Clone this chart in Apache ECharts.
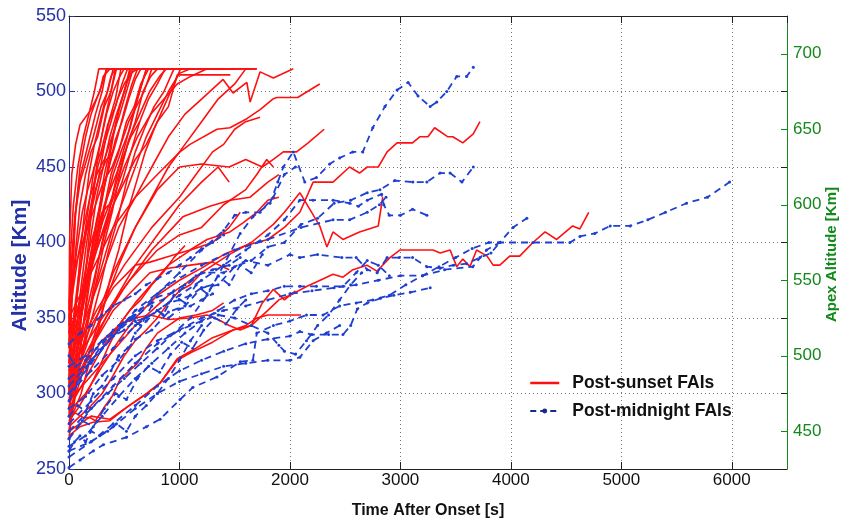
<!DOCTYPE html>
<html>
<head>
<meta charset="utf-8">
<script src="https://cdn.jsdelivr.net/npm/echarts@6/dist/echarts.min.js"></script>
<style>
  html, body { margin: 0; padding: 0; background: #fff; }
  #fai { width: 845px; height: 522px; }
</style>
</head>
<body>
<div id="fai"></div>
<script>
// time after onset [s], altitude [km] for each FAI track
const sunsetTracks = [
  [[0,330],[5,400],[25,445],[60,465],[100,478],[200,488],[280,500],[310,510],[370,515],[530,515]],
  [[0,300],[15,340],[35,380],[60,420],[100,450],[150,470],[200,485],[250,495],[300,505],[340,515],[600,515]],
  [[0,285],[30,320],[60,355],[100,390],[140,420],[180,445],[230,465],[280,480],[330,495],[380,510],[420,515],[700,515]],
  [[0,320],[25,360],[60,395],[100,425],[150,445],[200,460],[260,470],[320,490],[380,500],[430,515],[650,515]],
  [[0,345],[20,385],[50,415],[90,440],[140,455],[190,470],[240,485],[300,500],[340,515],[480,515]],
  [[0,295],[50,330],[100,365],[150,395],[200,420],[260,440],[310,460],[360,480],[420,495],[470,515],[800,515]],
  [[0,310],[40,345],[80,370],[130,400],[180,425],[230,450],[280,465],[340,485],[400,500],[460,510],[500,515],[850,515]],
  [[0,275],[60,305],[120,340],[170,370],[220,400],[270,420],[320,445],[380,465],[440,485],[500,500],[550,515],[900,515]],
  [[0,290],[50,315],[100,345],[150,380],[200,405],[250,430],[310,450],[370,470],[430,485],[500,500],[560,515],[950,515]],
  [[0,330],[40,350],[90,380],[140,400],[200,425],[260,450],[320,465],[380,480],[440,495],[500,505],[560,512],[620,515],[1000,515]],
  [[0,305],[70,340],[130,365],[190,390],[250,415],[310,435],[380,455],[440,470],[510,490],[570,505],[620,515],[750,515]],
  [[0,340],[30,370],[70,395],[120,420],[170,435],[230,450],[290,460],[350,478],[420,490],[480,505],[530,515]],
  [[0,280],[80,310],[150,340],[210,365],[270,390],[330,410],[390,430],[450,450],[510,465],[580,485],[640,500],[700,515],[800,515]],
  [[0,315],[60,340],[120,370],[180,395],[240,410],[300,430],[360,450],[420,468],[480,480],[540,495],[600,508],[650,515],[1100,515]],
  [[0,300],[50,320],[110,350],[170,375],[240,400],[310,420],[380,445],[450,460],[520,480],[590,490],[650,505],[720,515],[1000,515]],
  [[0,350],[30,365],[80,390],[130,410],[190,430],[250,445],[320,455],[390,470],[460,485],[520,500],[580,515]],
  [[0,290],[100,320],[180,350],[250,375],[320,400],[390,420],[460,445],[530,465],[600,480],[670,500],[740,510],[800,515],[1200,515]],
  [[0,325],[60,350],[120,365],[190,385],[260,400],[330,425],[400,445],[470,460],[550,475],[620,495],[700,515]],
  [[0,310],[80,330],[160,355],[240,380],[320,405],[400,425],[480,440],[560,460],[640,480],[720,495],[800,505],[870,515],[1100,515]],
  [[0,360],[40,380],[100,395],[170,410],[240,425],[310,440],[390,450],[470,465],[540,480],[610,490],[680,500],[750,515]],
  [[0,295],[100,320],[190,345],[280,370],[360,395],[440,415],[520,440],[600,460],[680,475],[770,490],[860,500],[950,515],[1400,515]],
  [[0,335],[70,355],[150,375],[230,395],[310,415],[390,430],[470,450],[550,470],[640,485],[730,500],[820,510],[880,515]],
  [[0,280],[110,300],[200,325],[290,350],[370,375],[450,395],[530,420],[610,440],[690,460],[770,475],[860,490],[950,505],[1010,515],[1500,515]],
  [[0,300],[100,330],[200,360],[300,385],[400,410],[500,430],[600,450],[700,470],[800,485],[900,500],[1000,512],[1100,515],[1700,515]],
  [[0,270],[30,290],[70,320],[110,350],[150,380],[190,410],[230,440],[270,460],[320,480],[380,500],[420,515],[550,515]],
  [[0,275],[50,295],[100,330],[160,360],[220,390],[280,420],[340,445],[400,470],[460,490],[520,505],[580,515],[700,515]],
  [[0,355],[15,395],[40,425],[80,450],[130,470],[180,485],[230,500],[270,515],[400,515]],
  [[0,300],[10,350],[30,390],[60,420],[100,440],[160,455],[220,470],[290,490],[350,500],[400,515],[600,515]],
  [[0,320],[50,350],[100,380],[160,410],[220,430],[280,445],[340,455],[400,460]],
  [[0,290],[60,320],[120,355],[180,385],[240,405],[300,420],[360,425]],
  [[0,310],[80,340],[160,370],[240,400],[320,425],[400,440],[480,455],[560,470],[640,480]],
  [[0,340],[100,360],[200,385],[300,405],[400,425],[500,440],[600,455],[700,465],[800,480],[900,490],[980,511],[1200,511],[1460,511]],
  [[0,320],[150,350],[300,380],[450,410],[600,430],[750,450],[900,470],[1050,485],[1200,495],[1395,508],[1485,499],[1610,506],[1640,493],[1730,513],[1850,509],[2030,515]],
  [[0,350],[200,380],[400,410],[600,430],[800,445],[1005,460],[1095,465],[1340,475],[1457,476],[1610,482],[1730,488],[1845,495],[1880,496],[2070,496],[2270,505]],
  [[0,300],[200,340],[400,380],[600,410],[800,435],[1000,450],[1200,452],[1450,450],[1600,455],[1750,450],[1850,455],[1940,460],[2060,460],[2165,466],[2310,475]],
  [[0,330],[120,360],[250,395],[380,425],[500,450],[620,470],[740,485],[860,495],[980,505],[1100,510],[1250,515],[1650,515]],
  [[0,285],[150,320],[300,355],[450,385],[600,410],[750,430],[900,450],[1050,465],[1200,480],[1350,495],[1500,505],[1600,515],[1700,515]],
  [[0,300],[200,330],[400,360],[600,385],[800,405],[1000,425],[1200,440],[1350,450],[1450,440]],
  [[0,320],[250,355],[500,385],[750,410],[1000,430],[1150,445],[1300,460],[1400,465],[1500,475],[1600,480],[1730,483]],
  [[0,290],[300,330],[600,360],[900,385],[1100,395],[1300,400],[1450,410],[1550,420]],
  [[0,275],[200,285],[370,283],[525,291],[705,300],[825,307],[980,323],[1150,330],[1300,337],[1485,342],[1650,345],[1800,355],[1900,362],[2000,365],[2155,371],[2245,374],[2390,379],[2480,377],[2570,382],[2697,385],[2787,381],[2905,390],[2995,395],[3086,395],[3200,395],[3295,395],[3360,393],[3450,395],[3510,384],[3565,389],[3630,384],[3690,395],[3785,391],[3840,385],[3900,385],[3990,391],[4080,391],[4200,400],[4310,407],[4415,402],[4560,411],[4625,409],[4705,420]],
  [[0,272],[100,278],[217,281],[370,282],[525,291],[705,300],[825,307],[980,322],[1100,327],[1300,334],[1485,342],[1600,345],[1700,350],[1800,352],[2000,352],[2100,352]],
  [[0,288],[150,300],[300,318],[450,335],[600,350],[800,365],[1000,375],[1200,383],[1400,392],[1600,398],[1800,402],[1950,410],[2090,420],[2210,440],[2390,440],[2540,450],[2630,446],[2700,450],[2800,450],[2880,460],[2970,466],[3110,466],[3175,470],[3250,470],[3310,476],[3430,470],[3475,470],[3565,466],[3660,472],[3720,480]],
  [[0,295],[300,320],[600,345],[900,365],[1200,380],[1450,392],[1650,400],[1850,412],[1950,420],[2090,433],[2270,411],[2335,397],[2390,407],[2480,402],[2630,407],[2800,411],[2840,430]],
  [[0,305],[250,340],[500,370],[750,395],[1030,417],[1275,424],[1457,428],[1640,430],[1800,440],[1900,445]],
  [[0,315],[300,350],[550,375],[800,395],[1000,405],[1200,410],[1400,425],[1600,435],[1700,445],[1790,455],[1850,450]],
  [[0,285],[60,287],[130,284],[190,284],[240,282],[320,291],[390,298],[460,309],[560,316],[620,320],[700,330],[800,340],[900,345],[1000,350],[1150,352],[1300,355],[1400,360]],
  [[0,278],[100,285],[200,292],[300,300],[400,312],[500,325],[600,335],[700,342],[800,350],[900,360],[1000,368],[1100,372],[1200,380]],
  [[0,282],[80,290],[160,300],[260,315],[350,330],[450,345],[550,355],[650,362],[750,372],[850,380],[950,390],[1050,398]],
  [[0,300],[150,320],[300,335],[450,345],[600,350],[733,352],[900,349],[1095,350],[1250,352],[1350,349],[1450,345],[1550,342],[1650,345],[1750,360],[1850,369],[1950,362],[2050,368]],
  [[0,295],[200,330],[400,355],[600,370],[733,380],[900,383],[1100,385],[1300,387],[1450,382]],
  [[0,310],[200,345],[400,370],[600,385],[733,387],[915,391],[1095,395],[1250,402],[1457,407],[1575,413],[1700,420],[1800,428],[1900,430]]
];

const midnightTracks = [
  [[0,251],[100,256],[220,262],[310,266],[520,271],[700,278],[825,283],[1005,296],[1120,304],[1340,311],[1550,321],[1665,322],[1700,340],[1850,345],[2000,348],[2150,352],[2300,352],[2450,358],[2600,360],[2750,362],[2900,365],[3050,372],[3200,378],[3350,384],[3500,390],[3650,396],[3800,400],[3900,400],[4200,400],[4535,400],[4625,404],[4760,406],[4900,411],[5080,411],[5240,415],[5400,420],[5590,426],[5780,430],[5980,440]],
  [[0,270],[100,280],[200,290],[350,300],[500,310],[650,320],[800,330],[950,340],[1100,350],[1250,365],[1400,385],[1550,406],[1665,417],[1820,426],[1890,440],[1940,450],[2030,460],[2135,440],[2240,443],[2360,452],[2450,456],[2570,460],[2660,460],[2750,476],[2860,490],[2970,501],[3070,506],[3160,497],[3270,490],[3330,493],[3420,500],[3510,510],[3600,510],[3660,516]],
  [[0,290],[150,298],[300,312],[450,322],[600,336],[750,342],[900,354],[1050,358],[1200,370],[1350,372],[1500,384],[1650,388],[1800,397],[1950,400],[2100,412],[2250,416],[2400,426],[2550,428],[2700,433],[2815,435],[2950,441],[3113,440],[3240,440],[3360,446],[3450,446],[3557,440],[3660,450]],
  [[0,300],[200,315],[400,330],[600,345],[800,355],[1000,365],[1200,375],[1400,385],[1600,395],[1800,405],[1950,415],[2090,428],[2210,428],[2390,428],[2540,426],[2620,424],[2700,428],[2830,432],[2850,425],[2900,418],[3000,418],[3110,422],[3240,418]],
  [[0,280],[200,295],[400,310],[600,325],[800,335],[1000,342],[1200,350],[1400,355],[1600,358],[1800,362],[2000,366],[2200,368],[2400,370],[2600,372],[2800,375],[3000,378],[3200,378],[3400,382],[3656,384],[3780,395],[3900,400],[4020,410],[4145,416]],
  [[0,310],[200,322],[400,342],[600,350],[800,364],[1000,368],[1200,380],[1400,380],[1600,388],[1800,385],[2000,392],[2090,390],[2250,392],[2470,390],[2600,390],[2700,382],[2790,380],[2880,390],[2990,390],[3110,390],[3240,384],[3360,383],[3480,385],[3600,386],[3720,390],[3820,393],[3900,400]],
  [[0,265],[150,272],[300,285],[450,298],[600,310],[750,320],[900,330],[1050,340],[1200,348],[1350,355],[1500,362],[1650,366],[1800,368],[1950,371],[2090,371],[2240,371],[2480,371],[2600,380],[2700,388],[2800,385],[2900,378]],
  [[0,258],[200,268],[400,280],[600,292],[800,305],[1000,315],[1200,322],[1400,328],[1600,333],[1800,336],[2000,338],[2090,341],[2200,339],[2350,339],[2480,339],[2550,345],[2610,356],[2700,360],[2820,363],[2940,365],[3090,367],[3270,370]],
  [[0,262],[200,268],[400,278],[600,290],[800,300],[1000,308],[1200,313],[1400,318],[1600,320],[1800,322],[2000,322],[2090,324],[2210,335],[2330,340],[2450,345]],
  [[0,275],[200,290],[400,305],[600,320],[800,333],[1000,342],[1200,348],[1350,352],[1500,350],[1650,345],[1800,340],[1900,332],[1950,328],[2050,326],[2150,335],[2250,345],[2350,352],[2450,362],[2550,372],[2650,380]],
  [[0,262],[50,268],[100,272],[150,268],[200,275],[280,272],[350,275],[430,280],[520,275],[600,285],[700,292],[800,300],[900,310],[1000,322],[1100,335],[1200,345]],
  [[0,285],[80,292],[150,288],[220,300],[300,305],[380,315],[450,325],[530,330],[600,340],[700,348],[800,355],[900,360],[1000,362],[1100,365],[1200,370],[1300,372]],
  [[0,325],[60,318],[150,322],[250,330],[350,338],[450,345],[550,350],[650,356],[750,360],[850,362],[950,368],[1050,372],[1150,378],[1300,382],[1450,385],[1550,390]],
  [[0,333],[100,340],[200,345],[300,352],[400,358],[500,362],[600,366],[700,372],[800,376],[900,380],[1000,385],[1100,390],[1200,396],[1300,400],[1400,405]],
  [[0,295],[100,310],[200,322],[300,330],[400,338],[500,342],[600,348],[700,350],[800,355],[900,350],[1000,356],[1100,358],[1200,362],[1300,366]],
  [[0,300],[200,320],[400,338],[600,352],[800,366],[1000,380],[1200,395],[1400,408],[1500,418],[1600,420],[1730,420],[1850,430],[1950,445],[2050,450]],
  [[0,305],[300,330],[600,355],[900,372],[1200,385],[1500,395],[1800,402],[2100,410],[2390,415],[2540,415],[2700,420],[2810,425],[2870,430]],
  [[0,318],[150,325],[300,335],[450,342],[550,350],[650,345],[750,358],[850,352],[950,365],[1050,360],[1150,372],[1250,366],[1350,378],[1450,372],[1550,385],[1650,380],[1750,392]],
  [[0,270],[120,282],[220,278],[320,290],[420,300],[520,296],[620,310],[720,318],[820,314],[920,326],[1020,334],[1120,330],[1220,342],[1320,350],[1420,346],[1520,356],[1600,362]]
];

const seriesNames = ['Post-sunset FAIs', 'Post-midnight FAIs'];
const apexLabels = [450, 500, 550, 600, 650, 700];

const RED = '#ff1010';
const BLUE = '#1f3fd2';
const AXIS_BLUE = '#2331a8';
const AXIS_GREEN = '#13881b';
const FONT = 'Liberation Sans, Arial, sans-serif';

var chart = echarts.init(document.getElementById('fai'));

var series = [];
sunsetTracks.forEach(function (trk) {
  series.push({
    name: seriesNames[0],
    type: 'line',
    data: trk,
    showSymbol: false,
    symbol: 'none',
    silent: true,
    lineStyle: { color: RED, width: 1.6 },
    itemStyle: { color: RED },
    z: 3
  });
});
midnightTracks.forEach(function (trk) {
  series.push({
    name: seriesNames[1],
    type: 'line',
    data: trk,
    symbol: 'circle',
    symbolSize: 3,
    silent: true,
    lineStyle: { color: BLUE, width: 1.8, type: [7, 5] },
    itemStyle: { color: BLUE },
    z: 4
  });
});

var dotted = { show: true, lineStyle: { color: '#777', type: [1, 3], width: 1 } };

var option = {
  animation: false,
  backgroundColor: '#fff',
  textStyle: { fontFamily: FONT },
  grid: { left: 69, right: 58, top: 16, bottom: 53, outerBoundsMode: 'none' },
  legend: {
    data: [
      { name: seriesNames[0], itemStyle: { color: 'rgba(0,0,0,0)', borderWidth: 0 }, lineStyle: { color: RED, width: 2.5 } },
      { name: seriesNames[1], itemStyle: { color: '#1a2a8a', borderWidth: 0 }, lineStyle: { color: '#1a2a8a', width: 2, type: [6, 4] } }
    ],
    orient: 'vertical',
    left: 529,
    top: 374,
    padding: 0,
    itemWidth: 29,
    itemHeight: 6,
    itemGap: 10,
    textStyle: { fontSize: 17.5, fontWeight: 'bold', color: '#111', fontFamily: FONT, padding: [0, 0, 0, 8] }
  },
  xAxis: [{
    type: 'value',
    min: 0,
    max: 6500,
    interval: 1000,
    name: 'Time After Onset [s]',
    nameLocation: 'middle',
    nameGap: 34,
    nameTextStyle: { fontSize: 16, fontWeight: 'bold', color: '#111' },
    axisLine: { onZero: false, lineStyle: { color: '#222', width: 1 } },
    axisTick: { inside: true, length: 7, lineStyle: { color: '#222' } },
    axisLabel: { fontSize: 17, color: '#111', margin: 3, showMaxLabel: false,
                 formatter: function (v) { return String(v); } },
    splitLine: dotted
  }, {
    type: 'value',
    position: 'top',
    min: 0,
    max: 6500,
    interval: 1000,
    axisLine: { onZero: false, lineStyle: { color: '#222', width: 1 } },
    axisTick: { inside: true, length: 7, lineStyle: { color: '#222' } },
    axisLabel: { show: false },
    splitLine: { show: false }
  }],
  yAxis: [{
    type: 'value',
    min: 250,
    max: 550,
    interval: 50,
    name: 'Altitude [Km]',
    nameLocation: 'middle',
    nameGap: 38,
    nameMoveOverlap: false,
    nameTextStyle: { fontSize: 21, fontWeight: 'bold', color: AXIS_BLUE, padding: [0, 46, 0, 0] },
    axisLine: { show: true, onZero: false, lineStyle: { color: AXIS_BLUE, width: 1 } },
    axisTick: { show: true, inside: true, length: 6, lineStyle: { color: AXIS_BLUE } },
    axisLabel: { fontSize: 18, color: AXIS_BLUE, margin: 3 },
    splitLine: dotted
  }, {
    type: 'value',
    position: 'right',
    min: 425,
    max: 725,
    splitNumber: 6,
    name: 'Apex Altitude [Km]',
    nameLocation: 'middle',
    nameGap: 37,
    nameMoveOverlap: false,
    nameTextStyle: { fontSize: 15, fontWeight: 'bold', color: AXIS_GREEN, padding: [0, 24, 0, 0] },
    axisLine: { show: true, onZero: false, lineStyle: { color: AXIS_GREEN, width: 1 } },
    axisTick: { show: true, inside: true, length: 6, lineStyle: { color: AXIS_GREEN } },
    axisLabel: { fontSize: 17, color: AXIS_GREEN, margin: 6, customValues: apexLabels },
    splitLine: { show: false }
  }, {
    // box ticks mirrored from the altitude axis
    type: 'value',
    position: 'right',
    min: 250,
    max: 550,
    interval: 50,
    axisLine: { show: false, onZero: false },
    axisTick: { show: true, inside: true, length: 6, lineStyle: { color: '#222' } },
    axisLabel: { show: false },
    splitLine: { show: false }
  }],
  series: series
};

chart.setOption(option);
</script>
</body>
</html>
